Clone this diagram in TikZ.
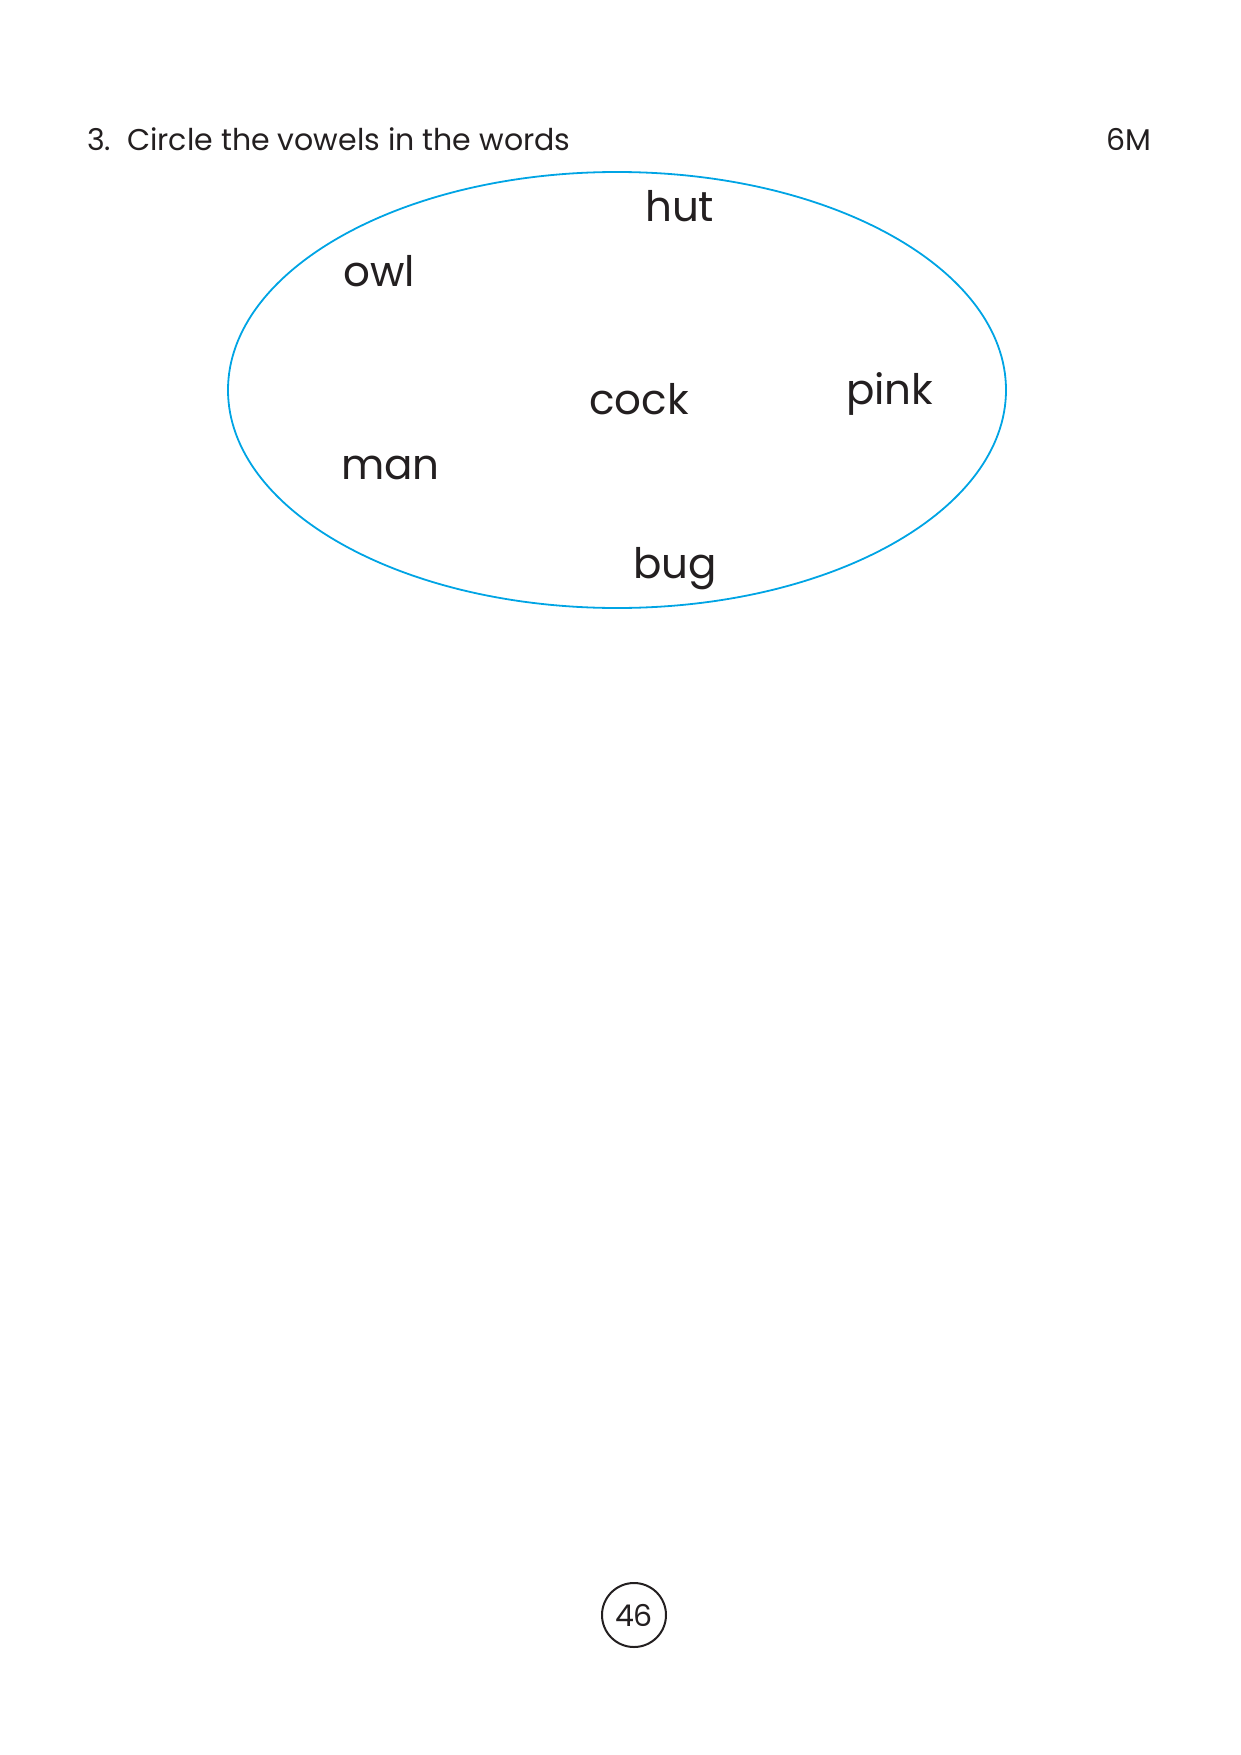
\documentclass[tikz,border=0pt]{standalone}
\usepackage{fontspec}
\setmainfont{Poppins}
\usetikzlibrary{shapes.geometric}
\definecolor{cyanline}{RGB}{0,164,228}
\definecolor{ink}{RGB}{35,31,32}
\begin{document}
\begin{tikzpicture}[x=1pt,y=-1pt,
  word/.style={anchor=base west,inner sep=0pt,text=ink,font=\fontsize{42}{48}\selectfont},
  title/.style={anchor=base west,inner sep=0pt,text=ink,font=\fontsize{30}{34}\selectfont}]
\useasboundingbox (0,0) rectangle (1241,1755);
\node[title] (q) at (87,151) {3.\ \ Circle the vowels in the words};
\node[title] (m) at (1106,151) {6M};
\node[draw=cyanline,line width=1.8pt,ellipse,minimum width=778,minimum height=436,inner sep=0pt] (e) at (617,390) {};
\node[word] (hut) at (645,222) {hut};
\node[word] (owl) at (343,286) {owl};
\node[word] (cock) at (589,414) {cock};
\node[word] (pink) at (846,404) {pink};
\node[word] (man) at (341,479) {man};
\node[word] (bug) at (633,578) {bug};
\node[draw=ink,line width=2pt,circle,minimum size=64,inner sep=0pt,text=ink,font=\fontsize{30}{34}\selectfont] (pg) at (634,1615) {46};
\end{tikzpicture}
\end{document}
